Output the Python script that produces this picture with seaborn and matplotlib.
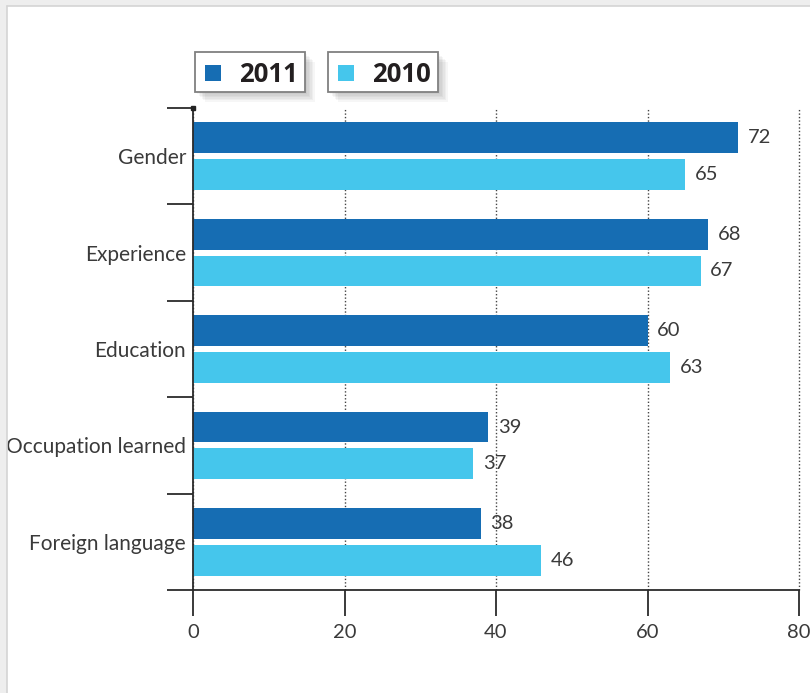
import matplotlib
matplotlib.use("Agg")
import matplotlib.pyplot as plt
from matplotlib.patches import Rectangle
from matplotlib.lines import Line2D
import seaborn as sns
import pandas as pd

# ---- data ----
categories = ["Gender", "Experience", "Education", "Occupation learned", "Foreign language"]
years = ["2011", "2010"]
values_2011 = [72, 68, 60, 39, 38]
values_2010 = [65, 67, 63, 37, 46]
x_ticks = [0, 20, 40, 60, 80]

colors = ["#166db3", "#45c6ec"]
text_color = "#3a3a3a"

df = pd.DataFrame({
    "category": categories * 2,
    "year": ["2011"] * len(categories) + ["2010"] * len(categories),
    "value": values_2011 + values_2010,
})

sns.set_theme(style="white")
plt.rcParams["font.family"] = ["Lato", "DejaVu Sans"]

W, H = 810, 693
fig = plt.figure(figsize=(W / 100, H / 100), dpi=100, facecolor="white")

# page frame
fig.patches.append(Rectangle((0, 1 - 6 / H), 1, 6 / H, transform=fig.transFigure,
                             facecolor="#eeeeee", edgecolor="none", zorder=0))
fig.patches.append(Rectangle((0, 0), 7 / W, 1, transform=fig.transFigure,
                             facecolor="#eeeeee", edgecolor="none", zorder=0))
fig.lines.append(Line2D([7 / W, 1], [1 - 6 / H, 1 - 6 / H], transform=fig.transFigure,
                        color="#d4d4d4", lw=1.2))
fig.lines.append(Line2D([7 / W, 7 / W], [0, 1 - 6 / H], transform=fig.transFigure,
                        color="#d4d4d4", lw=1.2))

left_px, right_px, top_px, bottom_px = 193, 799, 108, 590
ax = fig.add_axes([left_px / W, 1 - bottom_px / H,
                   (right_px - left_px) / W, (bottom_px - top_px) / H])
ax.set_facecolor("none")

sns.barplot(data=df, y="category", x="value", hue="year", hue_order=years,
            order=categories, palette=colors, orient="h", width=0.76, gap=0.16,
            saturation=1, linewidth=0, legend=False, ax=ax, zorder=3)

for cont in ax.containers:
    ax.bar_label(cont, fmt="%g", padding=7, fontsize=14.5, color=text_color)

ax.set_xlim(0, 80)
ax.set_ylim(len(categories) - 0.5, -0.5)
ax.set_xticks(x_ticks)
ax.set_xticklabels([str(t) for t in x_ticks])
ax.set_xlabel("")
ax.set_ylabel("")

# dotted vertical grid
ax.xaxis.grid(True, linestyle=(0, (1, 1.5)), color="#444444", lw=1.0, zorder=1)
ax.yaxis.grid(False)
ax.set_axisbelow(True)
fig.canvas.draw()
for gl in ax.get_xgridlines():
    gl.set_clip_on(False)

for side in ["top", "right"]:
    ax.spines[side].set_visible(False)
for side in ["left", "bottom"]:
    ax.spines[side].set_color("#2b2b2b")
    ax.spines[side].set_linewidth(1.3)
    ax.spines[side].set_zorder(4)

ax.tick_params(axis="x", which="major", direction="out", length=18.5, width=1.3,
               color="#2b2b2b", pad=6, labelsize=14.5, labelcolor=text_color, bottom=True)
ax.tick_params(axis="y", which="major", length=0, pad=5, labelsize=15,
               labelcolor=text_color, left=True)
ax.set_yticks([i + 0.5 for i in range(-1, len(categories))], minor=True)
ax.tick_params(axis="y", which="minor", direction="out", length=18.5, width=1.3,
               color="#2b2b2b", left=True)
ax.plot([0], [1], marker="s", ms=3.5, color="#222222", transform=ax.transAxes,
        clip_on=False, zorder=5)

# legend: two separate boxes with soft shadows
box_w, box_h = 110, 40
box_x = [195, 328]
box_top = 52
for i, (lab, col) in enumerate(zip(years, colors)):
    x0 = box_x[i]
    y0 = H - box_top - box_h
    for k in range(6):
        off = 2 + k * 1.6
        fig.patches.append(Rectangle(((x0 + off) / W, (y0 - off) / H), box_w / W, box_h / H,
                                     transform=fig.transFigure, facecolor="#000000",
                                     alpha=0.035, edgecolor="none", zorder=1))
    fig.patches.append(Rectangle((x0 / W, y0 / H), box_w / W, box_h / H,
                                 transform=fig.transFigure, facecolor="white",
                                 edgecolor="#808080", lw=1.3, zorder=2))
    fig.patches.append(Rectangle(((x0 + 10) / W, (y0 + 11) / H), 16 / W, 16 / H,
                                 transform=fig.transFigure, facecolor=col,
                                 edgecolor="none", zorder=3))
    fig.text((x0 + 44) / W, (y0 + box_h / 2) / H, lab, fontsize=18.5, fontweight="bold",
             family=["Open Sans", "DejaVu Sans"],
             color="#231f20", ha="left", va="center_baseline", zorder=4)

fig.savefig("out.png", dpi=100, facecolor="white")
